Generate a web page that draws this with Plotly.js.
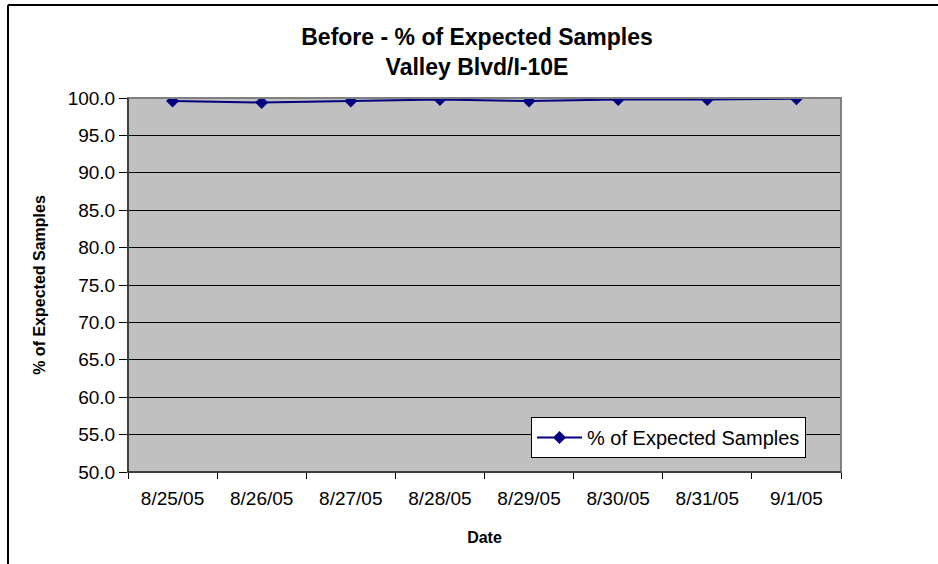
<!DOCTYPE html>
<html>
<head>
<meta charset="utf-8">
<script src="https://cdn.plot.ly/plotly-3.0.1.min.js"></script>
<style>
html,body{margin:0;padding:0;background:#fff;}
#chart{width:938px;height:564px;}
</style>
</head>
<body>
<div id="chart"></div>
<script>
var dates = ['8/25/05','8/26/05','8/27/05','8/28/05','8/29/05','8/30/05','8/31/05','9/1/05'];
var pctExpected = [99.6, 99.4, 99.6, 99.8, 99.6, 99.8, 99.8, 99.9];
var yTicks = [50,55,60,65,70,75,80,85,90,95,100];
var seriesName = '% of Expected Samples';

var FONT = 'Liberation Sans, Arial, sans-serif';

var trace = {
  type: 'scatter',
  mode: 'lines+markers',
  x: dates,
  y: pctExpected,
  name: seriesName,
  line: {color: '#000080', width: 2},
  marker: {symbol: 'diamond', size: 10, color: '#000080'},
  showlegend: true
};

var layout = {
  width: 938,
  height: 564,
  margin: {l: 128, r: 97, t: 98, b: 92},
  paper_bgcolor: '#ffffff',
  plot_bgcolor: '#c0c0c0',
  font: {family: FONT, color: '#000000'},
  title: {
    text: '<b>Before - % of Expected Samples<br>Valley Blvd/I-10E</b>',
    font: {family: FONT, size: 23, color: '#000'},
    xref: 'container', x: 477/938, xanchor: 'center',
    yref: 'container', y: 1 - 45/564, yanchor: 'top'
  },
  xaxis: {
    type: 'category',
    range: [-0.5, 7.5],
    tickson: 'boundaries',
    ticks: 'outside', ticklen: 6, tickcolor: '#000', tickwidth: 1,
    showgrid: false,
    showline: true, linecolor: '#000', linewidth: 1,
    tickfont: {family: FONT, size: 19, color: '#000'},
    ticklabelstandoff: 9,
    title: {text: '<b>Date</b>', font: {family: FONT, size: 16, color: '#000'}, standoff: 24},
    automargin: false,
    zeroline: false
  },
  yaxis: {
    range: [50, 100],
    tickvals: yTicks,
    tickformat: '.1f',
    ticks: 'outside', ticklen: 8, tickcolor: '#000', tickwidth: 1,
    showgrid: true, gridcolor: '#000', gridwidth: 1,
    showline: true, linecolor: '#000', linewidth: 1,
    tickfont: {family: FONT, size: 19, color: '#000'},
    title: {text: '<b>% of Expected Samples</b>', font: {family: FONT, size: 16, color: '#000'}, standoff: 18},
    automargin: false,
    zeroline: false
  },
  legend: {
    x: (531-128)/713, xanchor: 'left',
    y: (472-417)/374, yanchor: 'top',
    bgcolor: '#ffffff',
    bordercolor: '#000', borderwidth: 1,
    font: {family: FONT, size: 20, color: '#000'},
    itemwidth: 45,
    tracegroupgap: 0
  },
  shapes: [
    {type: 'rect', xref: 'paper', yref: 'paper', x0: 0, x1: 1, y0: 0, y1: 1,
     line: {color: '#808080', width: 2}, fillcolor: 'rgba(0,0,0,0)', layer: 'above'},
    {type: 'line', xref: 'paper', yref: 'paper', x0: 0, x1: 0, y0: 0, y1: 1,
     line: {color: '#000', width: 1}, layer: 'above'},
    {type: 'line', xref: 'paper', yref: 'paper', x0: 0, x1: 1, y0: 0, y1: 0,
     line: {color: '#000', width: 1}, layer: 'above'},
    {type: 'line', xref: 'paper', yref: 'paper',
     x0: (8-128)/713, x1: (940-128)/713, y0: (472-5)/374, y1: (472-5)/374,
     line: {color: '#000', width: 2}},
    {type: 'line', xref: 'paper', yref: 'paper',
     x0: (8-128)/713, x1: (8-128)/713, y0: (472-5)/374, y1: (472-570)/374,
     line: {color: '#000', width: 2}}
  ]
};

Plotly.newPlot('chart', [trace], layout, {displayModeBar: false, staticPlot: true});
</script>
</body>
</html>
